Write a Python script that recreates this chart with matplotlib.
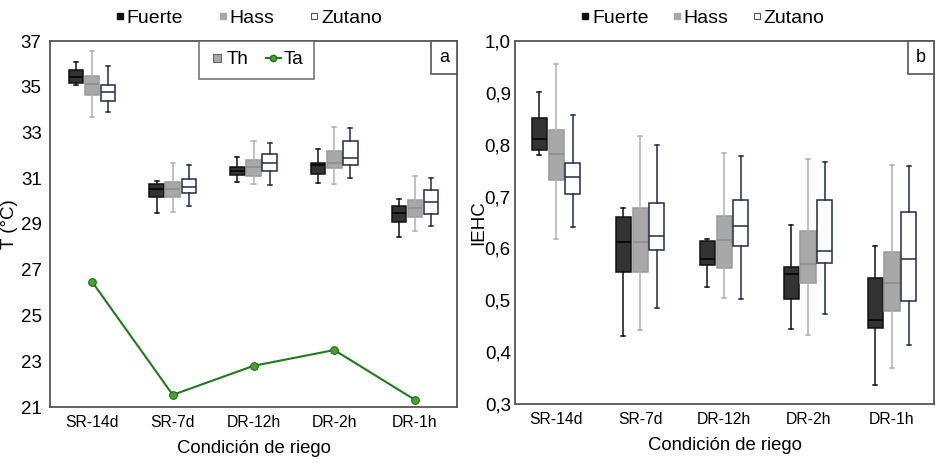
import matplotlib
matplotlib.use("Agg")
import matplotlib.pyplot as plt
from matplotlib.lines import Line2D
from matplotlib.offsetbox import AnchoredText

plt.rcParams['font.family'] = ['Liberation Sans', 'DejaVu Sans']

categories = ["SR-14d", "SR-7d", "DR-12h", "DR-2h", "DR-1h"]
varieties = ["Fuerte", "Hass", "Zutano"]

# Panel a: canopy temperature Th (°C) box stats per variety: [whislo, q1, med, q3, whishi]
th_fuerte = [[35.07, 35.15, 35.44, 35.72, 36.10],
             [29.46, 30.16, 30.51, 30.77, 30.90],
             [30.84, 31.13, 31.32, 31.47, 31.93],
             [30.80, 31.20, 31.57, 31.67, 32.27],
             [28.44, 29.10, 29.46, 29.78, 30.09]]
th_hass = [[33.68, 34.63, 35.11, 35.49, 36.55],
           [29.52, 30.16, 30.51, 30.84, 31.67],
           [30.74, 31.12, 31.50, 31.79, 32.62],
           [30.74, 31.43, 31.65, 32.18, 33.24],
           [28.69, 29.29, 29.72, 30.04, 31.09]]
th_zutano = [[33.90, 34.38, 34.77, 35.08, 35.91],
             [29.78, 30.36, 30.62, 30.97, 31.56],
             [30.70, 31.30, 31.65, 32.05, 32.56],
             [31.02, 31.57, 31.90, 32.63, 33.20],
             [28.92, 29.42, 29.97, 30.49, 31.03]]
# Air temperature Ta (°C)
ta_values = [26.48, 21.53, 22.80, 23.49, 21.31]

# Panel b: IEHC box stats per variety: [whislo, q1, med, q3, whishi]
ie_fuerte = [[0.780, 0.789, 0.811, 0.851, 0.901],
             [0.432, 0.554, 0.613, 0.661, 0.678],
             [0.525, 0.568, 0.579, 0.614, 0.618],
             [0.444, 0.503, 0.550, 0.565, 0.645],
             [0.337, 0.446, 0.462, 0.543, 0.604]]
ie_hass = [[0.619, 0.732, 0.783, 0.828, 0.955],
           [0.443, 0.554, 0.612, 0.677, 0.816],
           [0.505, 0.563, 0.616, 0.663, 0.784],
           [0.434, 0.533, 0.570, 0.633, 0.772],
           [0.370, 0.480, 0.534, 0.593, 0.760]]
ie_zutano = [[0.642, 0.705, 0.737, 0.765, 0.858],
             [0.486, 0.597, 0.624, 0.687, 0.799],
             [0.502, 0.605, 0.644, 0.694, 0.778],
             [0.473, 0.572, 0.595, 0.694, 0.766],
             [0.414, 0.498, 0.580, 0.671, 0.759]]

yticks_a = [21, 23, 25, 27, 29, 31, 33, 35, 37]
yticks_b = [0.3, 0.4, 0.5, 0.6, 0.7, 0.8, 0.9, 1.0]

styles = {
    "Fuerte": dict(face="#333333", edge="#111111", whisk="#111111", med="#000000"),
    "Hass": dict(face="#a8a8a8", edge="#9a9a9a", whisk="#b0b0b0", med="#8a8a8a"),
    "Zutano": dict(face="#ffffff", edge="#1f2b45", whisk="#1f2b45", med="#1f2b45"),
}
offsets = [-0.2, 0.0, 0.2]
spine_col = "#555555"

fig = plt.figure(figsize=(9.48, 4.68), dpi=100)
axa = fig.add_axes([50/948, 61/468, 407/948, 366/468])
axb = fig.add_axes([515/948, 64/468, 419/948, 363/468])


def draw_boxes(ax, datasets):
    for vi, (name, data) in enumerate(zip(varieties, datasets)):
        st = styles[name]
        stats = [dict(whislo=d[0], q1=d[1], med=d[2], q3=d[3], whishi=d[4], fliers=[])
                 for d in data]
        pos = [i + offsets[vi] for i in range(len(categories))]
        ax.bxp(stats, positions=pos, widths=0.18, patch_artist=True,
               showfliers=False, manage_ticks=False,
               boxprops=dict(facecolor=st["face"], edgecolor=st["edge"], linewidth=1.1),
               whiskerprops=dict(color=st["whisk"], linewidth=1.1),
               capprops=dict(color=st["whisk"], linewidth=1.1),
               medianprops=dict(color=st["med"], linewidth=1.1),
               capwidths=0.05)


def style_axes(ax):
    for s in ax.spines.values():
        s.set_color(spine_col)
        s.set_linewidth(1.3)
    ax.tick_params(length=0, pad=6)
    ax.set_xticks(range(len(categories)))
    ax.set_xticklabels(categories, fontsize=11.3)
    ax.set_xlabel("Condición de riego", fontsize=13.3, labelpad=7)


def top_legend(ax, x, spacing):
    handles = [
        Line2D([], [], marker='s', linestyle='none', markersize=5,
               markerfacecolor="#111111", markeredgecolor="#111111"),
        Line2D([], [], marker='s', linestyle='none', markersize=5,
               markerfacecolor="#a8a8a8", markeredgecolor="#a8a8a8"),
        Line2D([], [], marker='s', linestyle='none', markersize=5,
               markerfacecolor="#ffffff", markeredgecolor="#555555", markeredgewidth=0.8),
    ]
    return ax.legend(handles, varieties, loc='center', bbox_to_anchor=(x, 1.0 + 23/366),
                     ncol=3, frameon=False, fontsize=14, handlelength=0.3,
                     handletextpad=0.2, columnspacing=spacing)


# Panel a
draw_boxes(axa, [th_fuerte, th_hass, th_zutano])
axa.plot(range(len(categories)), ta_values, color="#1f7a1f", linewidth=1.5,
         marker='o', markersize=5.5, markerfacecolor="#4aa329",
         markeredgecolor="#1f6a1f", markeredgewidth=0.8, zorder=5)
axa.set_xlim(-0.52, 4.52)
axa.set_ylim(21, 37)
axa.set_yticks(yticks_a)
axa.set_yticklabels([str(v) for v in yticks_a], fontsize=13.5)
axa.set_ylabel("T (°C)", fontsize=13.5, labelpad=2)
style_axes(axa)

leg_inner_handles = [
    Line2D([], [], marker='s', linestyle='none', markersize=5.5,
           markerfacecolor="#a8a8a8", markeredgecolor="#666666", markeredgewidth=0.8),
    Line2D([], [], color="#1f7a1f", linewidth=1.5, marker='o', markersize=4.5,
           markerfacecolor="#4aa329", markeredgecolor="#1f6a1f"),
]
inner = axa.legend(leg_inner_handles, ["Th", "Ta"], loc='upper left',
                   bbox_to_anchor=(0.366, 1.0), borderaxespad=0, ncol=2,
                   fontsize=13.5, frameon=True, fancybox=False, handlelength=0.8,
                   handletextpad=0.15, columnspacing=0.9, borderpad=0.55)
inner.get_frame().set_edgecolor(spine_col)
inner.get_frame().set_linewidth(1.2)
top_legend(axa, 0.49, 1.9)
axa.add_artist(inner)

at = AnchoredText("a", loc='upper right', frameon=True, borderpad=0, pad=0.45,
                  prop=dict(fontsize=13))
at.patch.set_edgecolor(spine_col)
at.patch.set_linewidth(1.2)
at.patch.set_boxstyle("square,pad=0")
axa.add_artist(at)

# Panel b
draw_boxes(axb, [ie_fuerte, ie_hass, ie_zutano])
axb.set_xlim(-0.49, 4.5)
axb.set_ylim(0.3, 1.0)
axb.set_yticks(yticks_b)
axb.set_yticklabels([f"{v:.1f}".replace('.', ',') for v in yticks_b], fontsize=13.5)
axb.set_ylabel("IEHC", fontsize=13.5, labelpad=-2)
style_axes(axb)
axb.tick_params(axis='y', pad=3)
top_legend(axb, 0.45, 1.3)

bt = AnchoredText("b", loc='upper right', frameon=True, borderpad=0, pad=0.45,
                  prop=dict(fontsize=13))
bt.patch.set_edgecolor(spine_col)
bt.patch.set_linewidth(1.2)
bt.patch.set_boxstyle("square,pad=0")
axb.add_artist(bt)

fig.savefig("out.png", dpi=100)
